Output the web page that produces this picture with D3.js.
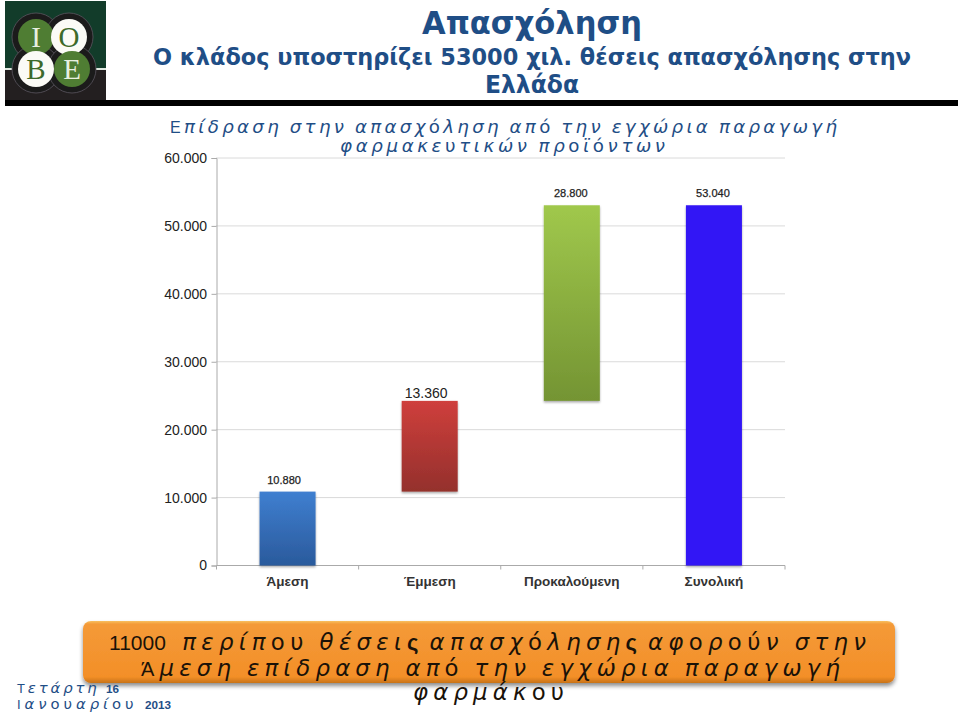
<!DOCTYPE html>
<html><head><meta charset="utf-8">
<script src="https://cdn.jsdelivr.net/npm/d3@7/dist/d3.min.js"></script>
<style>html,body{margin:0;padding:0;background:#fff}svg{display:block}</style>
</head><body><div id="c"></div>
<script>
const categories = ["Άμεση", "Έμμεση", "Προκαλούμενη", "Συνολική"];
const barStarts = [0, 10880, 24240, 0];
const barEnds = [10880, 24240, 53040, 53040];
const barLabels = ["10.880", "13.360", "28.800", "53.040"];
const labelSizes = [11, 14, 11, 11];
const barTopColors = ["#3f7fd0", "#cf3f3c", "#a0c84c", "#3314f5"];
const barBottomColors = ["#2a5a9c", "#94302c", "#749433", "#3314f5"];
const yTicks = [0, 10000, 20000, 30000, 40000, 50000, 60000];

const W = 959, H = 713;
const svg = d3.select("#c").append("svg").attr("width", W).attr("height", H);
const defs = svg.append("defs");
const SANS = "'Liberation Sans', Arial, sans-serif";
const DEJA = "'DejaVu Sans', sans-serif";

// Spaced mixed text fitted between x0 and x1: capitals and digits in a plain face,
// Greek lowercase in an oblique face, digits kept tight.
function spaced(x0, x1, y, str, size, color, boldDigits) {
  const t = svg.append("text").attr("x", x0).attr("y", y)
    .attr("font-family", SANS).attr("font-size", size).attr("fill", color);
  const chars = Array.from(str);
  const spans = chars.map((ch, i) => {
    const digit = /[0-9]/.test(ch);
    const upper = /[Α-ΩΆΈ]/.test(ch);
    const plain = /[ουόύ]/.test(ch);
    const s = t.append("tspan").text(ch);
    if (digit) {
      s.attr("font-weight", boldDigits ? "bold" : "normal");
      s.attr("font-size", boldDigits ? size * 0.9 : size * 1.05);
    } else if (ch === "ς") {
      s.attr("font-weight", "bold").attr("font-size", size * 1.1);
    } else if (ch === " " && chars[i - 1] === "ς") {
      s.attr("font-size", 1);
    } else if (!upper && ch !== " ") {
      s.attr("font-family", DEJA).attr("font-style", plain ? "normal" : "oblique").attr("font-size", size * 1.14);
    }
    return { s, digit, last: i === chars.length - 1, nextDigit: /[0-9]/.test(chars[i + 1] || "") };
  });
  const natural = t.node().getComputedTextLength();
  const gaps = spans.filter(d => !(d.digit && d.nextDigit) && !d.last);
  const ls = (x1 - x0 - natural) / gaps.length;
  gaps.forEach(d => d.s.style("letter-spacing", ls + "px"));
  return t;
}

// header
const logo = svg.append("g");
logo.append("rect").attr("x", 5).attr("y", 1).attr("width", 101).attr("height", 67).attr("fill", "#123c2a");
logo.append("rect").attr("x", 5).attr("y", 68).attr("width", 101).attr("height", 2).attr("fill", "#dfe8e0");
logo.append("rect").attr("x", 5).attr("y", 70).attr("width", 101).attr("height", 31).attr("fill", "#231f20");
const logoDiscs = [[36, 37, "Ι", "#4f7d33", "#e8efe0"], [69, 37, "Ο", "#fbfbf6", "#3d6a2a"], [36, 69, "Β", "#fbfbf6", "#3d6a2a"], [72, 69, "Ε", "#4f7d33", "#e8efe0"]];
logoDiscs.forEach(d => {
  logo.append("circle").attr("cx", d[0]).attr("cy", d[1]).attr("r", 24).attr("fill", "#1b1b1b").attr("stroke", "#5a5560").attr("stroke-width", 0.8);
});
logoDiscs.forEach(d => {
  logo.append("circle").attr("cx", d[0]).attr("cy", d[1]).attr("r", 18).attr("fill", d[3]);
  logo.append("text").attr("x", d[0]).attr("y", d[1] + 10).attr("text-anchor", "middle")
    .attr("font-family", "'Liberation Serif', serif").attr("font-size", 29).attr("fill", d[4]).text(d[2]);
});
svg.append("rect").attr("x", 5).attr("y", 100).attr("width", 953).attr("height", 6).attr("fill", "#000");

const TITLE = "'DejaVu Sans', Verdana, sans-serif";
[[532, 34, 32, 220, "Απασχόληση"], [532, 65, 23, 758, "Ο κλάδος υποστηρίζει 53000 χιλ. θέσεις απασχόλησης στην"], [532, 93, 24, 94, "Ελλάδα"]].forEach(d => {
  svg.append("text").attr("x", d[0]).attr("y", d[1]).attr("text-anchor", "middle").attr("font-family", TITLE)
    .attr("font-weight", "bold").attr("font-size", d[2]).attr("fill", "#1f4e86")
    .attr("textLength", d[3]).attr("lengthAdjust", "spacingAndGlyphs").text(d[4]);
});

spaced(170, 837, 133, "Επίδραση στην απασχόληση από την εγχώρια παραγωγή", 16, "#1f4e86");
spaced(340, 665, 152, "φαρμακευτικών προϊόντων", 16, "#1f4e86");

// chart
const x = d3.scaleBand().domain(categories).range([216.5, 785]).paddingInner(0.606).paddingOuter(0.303);
const y = d3.scaleLinear().domain([0, 60000]).range([565.5, 158]);

svg.append("g").selectAll("line").data(yTicks.filter(d => d > 0)).join("line")
  .attr("x1", 216.5).attr("x2", 785).attr("y1", d => y(d)).attr("y2", d => y(d))
  .attr("stroke", "#b4b4b4").attr("stroke-dasharray", "1 1");

const gy = svg.append("g").attr("transform", "translate(216.5,0)")
  .call(d3.axisLeft(y).tickValues(yTicks).tickSize(5).tickFormat(d => d === 0 ? "0" : d3.format(",")(d).replace(",", ".")));
gy.selectAll(".domain").attr("stroke", "#aaa");
gy.selectAll("line").attr("stroke", "#aaa");
gy.selectAll("text").attr("font-family", SANS).attr("font-size", 14).attr("fill", "#222").attr("dx", -1.5);

svg.append("line").attr("x1", 216.5).attr("x2", 785).attr("y1", y(0)).attr("y2", y(0)).attr("stroke", "#aaa");
svg.append("g").selectAll("line").data(d3.range(categories.length + 1)).join("line")
  .attr("x1", i => 216.5 + i * x.step()).attr("x2", i => 216.5 + i * x.step())
  .attr("y1", y(0)).attr("y2", y(0) + 4).attr("stroke", "#aaa");

const blur = defs.append("filter").attr("id", "bs").attr("x", "-20%").attr("y", "-10%").attr("width", "140%").attr("height", "120%");
blur.append("feDropShadow").attr("dx", 0).attr("dy", 1.5).attr("stdDeviation", 1.2).attr("flood-color", "#000").attr("flood-opacity", 0.35);

categories.forEach((c, i) => {
  const g = defs.append("linearGradient").attr("id", "g" + i).attr("x1", 0).attr("y1", 0).attr("x2", 0).attr("y2", 1);
  g.append("stop").attr("offset", 0).attr("stop-color", barTopColors[i]);
  g.append("stop").attr("offset", 1).attr("stop-color", barBottomColors[i]);
});

svg.append("g").selectAll("rect").data(categories).join("rect")
  .attr("x", d => x(d)).attr("width", x.bandwidth())
  .attr("y", (d, i) => y(barEnds[i])).attr("height", (d, i) => y(barStarts[i]) - y(barEnds[i]))
  .attr("fill", (d, i) => `url(#g${i})`).attr("filter", "url(#bs)");

svg.append("g").selectAll("text").data(categories).join("text")
  .attr("x", (d, i) => x(d) + x.bandwidth() / 2 - (i < 2 ? 3.5 : 1)).attr("y", (d, i) => y(barEnds[i]) - (i === 1 ? 3 : 8))
  .attr("text-anchor", "middle").attr("font-family", SANS).attr("fill", "#222")
  .attr("font-size", (d, i) => labelSizes[i]).attr("stroke", "#222").attr("stroke-width", (d, i) => i === 1 ? 0 : 0.25)
  .text((d, i) => barLabels[i]);

svg.append("g").selectAll("text").data(categories).join("text")
  .attr("x", d => x(d) + x.bandwidth() / 2).attr("y", 586)
  .attr("text-anchor", "middle").attr("font-family", SANS).attr("font-size", 13.5).attr("font-weight", "bold").attr("fill", "#333")
  .text(d => d);

// callout
const og = defs.append("linearGradient").attr("id", "og").attr("x1", 0).attr("y1", 0).attr("x2", 0).attr("y2", 1);
og.append("stop").attr("offset", 0).attr("stop-color", "#f8c060");
og.append("stop").attr("offset", 0.05).attr("stop-color", "#f49a38");
og.append("stop").attr("offset", 0.9).attr("stop-color", "#f38f28");
og.append("stop").attr("offset", 1).attr("stop-color", "#c87318");
const sh = defs.append("filter").attr("id", "os").attr("x", "-2%").attr("y", "-10%").attr("width", "104%").attr("height", "130%");
sh.append("feDropShadow").attr("dx", 0).attr("dy", 3).attr("stdDeviation", 2).attr("flood-color", "#000").attr("flood-opacity", 0.45);
svg.append("rect").attr("x", 83).attr("y", 621).attr("width", 812).attr("height", 62).attr("rx", 8)
  .attr("fill", "url(#og)").attr("filter", "url(#os)");

spaced(109, 866, 650, "11000 περίπου θέσεις απασχόλησης αφορούν στην", 20, "#1a1208");
spaced(141, 840, 676, "Άμεση επίδραση από την εγχώρια παραγωγή", 20, "#1a1208");
spaced(413, 564, 700, "φαρμάκου", 20, "#1a1208");

// date
spaced(17, 119, 693, "Τετάρτη 16", 13, "#1f4e86", true);
spaced(17, 171, 709, "Ιανουαρίου 2013", 13, "#1f4e86", true);
</script></body></html>
